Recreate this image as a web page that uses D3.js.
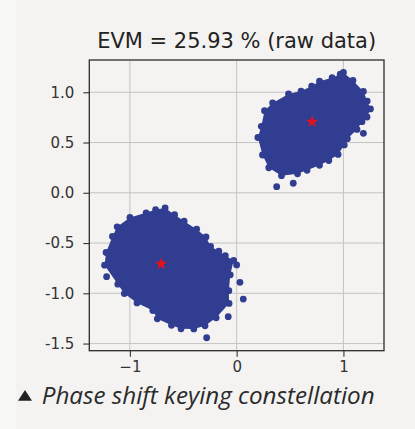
<!DOCTYPE html>
<html><head><meta charset="utf-8">
<script src="https://cdn.jsdelivr.net/npm/d3@7"></script>
<style>html,body{margin:0;padding:0;background:#f4f3f1;overflow:hidden} svg{display:block}</style>
</head><body>
<svg id="c" width="415" height="429"></svg>
<script>
// ---- data ----
const titleText = "EVM = 25.93 % (raw data)";
const captionText = "Phase shift keying constellation";
const xTicks = [-1, 0, 1];
const yTicks = [1.0, 0.5, 0.0, -0.5, -1.0, -1.5];
const xDomain = [-1.38, 1.38];
const yDomain = [-1.571, 1.321];
const idealPoints = [[0.707, 0.707], [-0.707, -0.707]];
// outer dot centres of the received-symbol clouds
const cloudUpperRight = [
  [1.000,1.197],[1.089,1.118],[1.187,1.008],[1.223,0.912],[1.253,0.834],[1.221,0.754],
  [1.174,0.707],[1.127,0.630],[1.037,0.538],[1.008,0.476],[0.950,0.382],[0.863,0.321],
  [0.776,0.274],[0.659,0.224],[0.570,0.189],[0.420,0.170],[0.301,0.249],[0.242,0.376],
  [0.199,0.550],[0.231,0.661],[0.261,0.817],[0.337,0.894],[0.486,0.983],[0.603,1.012],
  [0.703,1.060],[0.776,1.110],[0.894,1.145],[0.970,1.179]
];
const outliersUpperRight = [[1.187,0.592],[0.375,0.061],[0.530,0.095]];
const cloudLowerLeft = [
  [-0.670,-0.151],[-0.581,-0.218],[-0.492,-0.283],[-0.375,-0.362],[-0.287,-0.440],
  [-0.244,-0.534],[-0.167,-0.580],[-0.106,-0.626],[-0.028,-0.673],[-0.060,-0.816],
  [-0.073,-0.974],[-0.071,-1.101],[-0.192,-1.244],[-0.296,-1.323],[-0.401,-1.354],
  [-0.521,-1.353],[-0.610,-1.318],[-0.743,-1.254],[-0.785,-1.171],[-0.933,-1.096],
  [-1.052,-1.003],[-1.113,-0.909],[-1.237,-0.720],[-1.223,-0.594],[-1.163,-0.435],
  [-1.119,-0.339],[-0.999,-0.245],[-0.848,-0.199],[-0.759,-0.167]
];
const outliersLowerLeft = [[0.000,-0.718],[0.031,-0.891],[0.062,-1.057],[-0.079,-1.233],[-0.281,-1.442],[-1.218,-0.835]];

// ---- layout ----
const L = 89.3, R = 384, T = 60, B = 350.7;
const pointColor = "#303d90";
const svg = d3.select("#c");
svg.append("rect").attr("x",0).attr("y",0).attr("width",16).attr("height",429).attr("fill","#f8f8f7");

const x = d3.scaleLinear().domain(xDomain).range([L, R]);
const y = d3.scaleLinear().domain(yDomain).range([B, T]);

// grid
const g = svg.append("g");
g.selectAll(".gx").data(xTicks).join("line")
  .attr("x1", d => x(d)).attr("x2", d => x(d)).attr("y1", T).attr("y2", B)
  .attr("stroke", "#c4c4c4").attr("stroke-width", 1);
g.selectAll(".gy").data(yTicks).join("line")
  .attr("y1", d => y(d)).attr("y2", d => y(d)).attr("x1", L).attr("x2", R)
  .attr("stroke", "#c4c4c4").attr("stroke-width", 1);

// clouds
const line = d3.line().x(d => x(d[0])).y(d => y(d[1])).curve(d3.curveLinearClosed);
const clouds = [cloudUpperRight, cloudLowerLeft];
const dots = [].concat(cloudUpperRight, cloudLowerLeft, outliersUpperRight, outliersLowerLeft);
const pg = svg.append("g");
pg.selectAll("path").data(clouds).join("path").attr("d", line).attr("fill", pointColor);
pg.selectAll("circle").data(dots).join("circle")
  .attr("cx", d => x(d[0])).attr("cy", d => y(d[1])).attr("r", 3.4).attr("fill", pointColor);

// ideal points
svg.append("g").selectAll("path").data(idealPoints).join("path")
  .attr("transform", d => `translate(${x(d[0])},${y(d[1])})`)
  .attr("d", d3.symbol().type(d3.symbolStar).size(50))
  .attr("fill", "#e3121c");

// axes
const fontAx = "DejaVu Sans";
const yAxis = svg.append("g").attr("transform", `translate(${L},0)`)
  .call(d3.axisLeft(y).tickValues(yTicks).tickSize(6).tickPadding(9)
    .tickFormat(d => d.toFixed(1)));
const xAxis = svg.append("g").attr("transform", `translate(0,${B})`)
  .call(d3.axisBottom(x).tickValues(xTicks).tickSize(6).tickPadding(5)
    .tickFormat(d => d < 0 ? "\u2212" + Math.abs(d) : String(d)));
[yAxis, xAxis].forEach(a => {
  a.select(".domain").remove();
  a.selectAll("line").attr("stroke", "#333").attr("stroke-width", 1.1);
  a.selectAll("text").attr("fill", "#333").style("font-family", fontAx).style("font-size", "15px");
});

// spines
svg.append("rect").attr("x", L).attr("y", T).attr("width", R - L).attr("height", B - T)
  .attr("fill", "none").attr("stroke", "#2b2b2b").attr("stroke-width", 1.3);

// title
const ttl = svg.append("text").attr("x", (L + R) / 2).attr("y", 48.3).attr("text-anchor", "middle")
  .style("font-family", fontAx).style("font-size", "18px").attr("fill", "#222")
  .text(titleText);
const tw = ttl.node().getComputedTextLength();
ttl.style("font-size", (18 * 279 / tw).toFixed(2) + "px");

// caption
svg.append("path").attr("d", "M18,400.7L32,400.7L25,390Z").attr("fill", "#222");
const cap = svg.append("text").attr("x", 41.7).attr("y", 404)
  .style("font-family", "Open Sans").style("font-style", "italic").style("font-size", "18px")
  .attr("fill", "#2a2a2a").text(captionText);
const w = cap.node().getComputedTextLength();
cap.style("font-size", (18 * 333 / w).toFixed(2) + "px");
</script>
</body></html>
